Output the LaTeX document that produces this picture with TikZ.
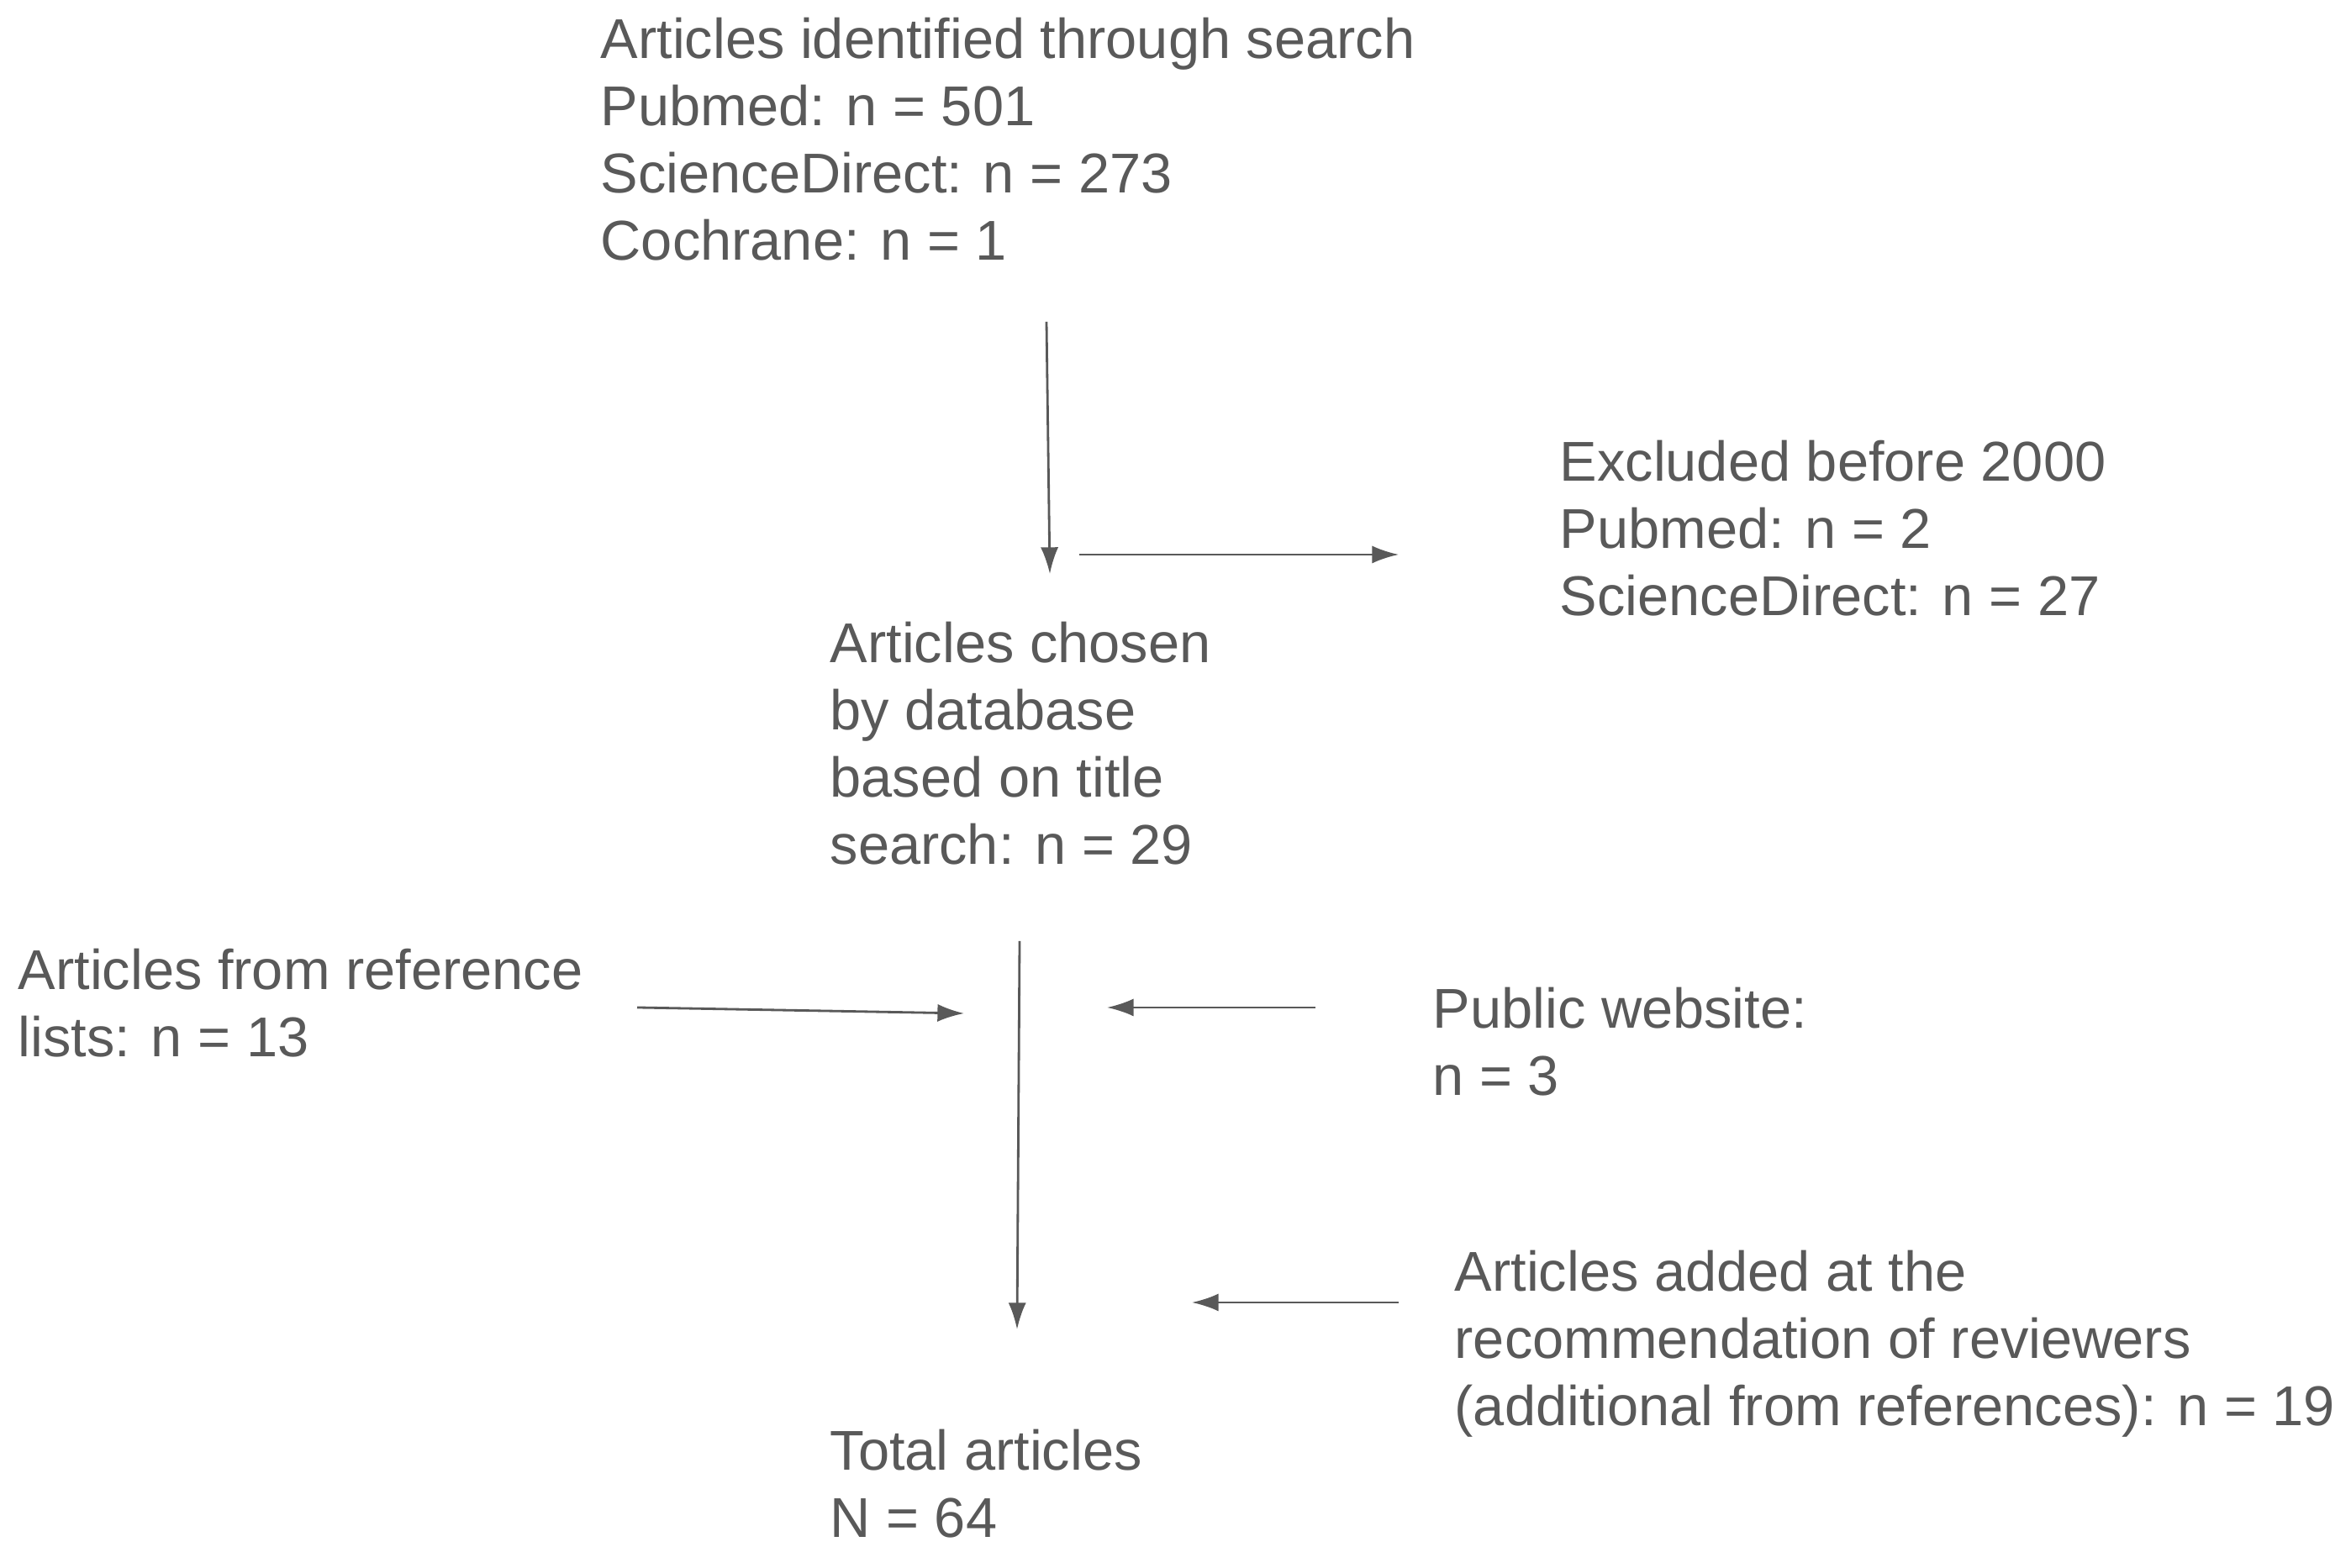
\documentclass[tikz,border=0pt]{standalone}
\usepackage{fontspec}
\setmainfont{Liberation Sans}
\usetikzlibrary{arrows.meta}
\definecolor{txtgray}{HTML}{595959}
\begin{document}
\begin{tikzpicture}[>={Latex[length=9pt,width=6pt]},
    lbl/.style={anchor=base west, inner sep=0pt, align=left, text=txtgray,
                font=\fontsize{19}{22.8}\selectfont},
    flow/.style={->, draw=txtgray, line width=0.8pt}]
    \useasboundingbox (0,0) rectangle (27.97,18.66);

    % text blocks (placed by the baseline of their last line)
    \node[lbl] (search) at (7.14,15.56) {Articles identified through search\\Pubmed: n = 501\\ScienceDirect: n = 273\\Cochrane: n = 1};
    \node[lbl] (excl) at (18.55,11.33) {Excluded before 2000\\Pubmed: n = 2\\ScienceDirect: n = 27};
    \node[lbl] (chosen) at (9.87,8.37) {Articles chosen\\by database\\based on title\\search: n = 29};
    \node[lbl] (reflist) at (0.21,6.08) {Articles from reference\\lists: n = 13};
    \node[lbl] (public) at (17.04,5.62) {Public website:\\n = 3};
    \node[lbl] (added) at (17.30,1.69) {Articles added at the\\recommendation of reviewers\\(additional from references): n = 19};
    \node[lbl] (total) at (9.87,0.36) {Total articles\\N = 64};

    % arrow ends
    \coordinate (s1) at (12.45,14.83); \coordinate (s2) at (12.49,11.83);
    \coordinate (e1) at (12.84,12.06); \coordinate (e2) at (16.64,12.06);
    \coordinate (c1) at (12.13,7.46);  \coordinate (c2) at (12.10,2.84);
    \coordinate (r1) at (7.58,6.67);   \coordinate (r2) at (11.47,6.60);
    \coordinate (p1) at (15.65,6.67);  \coordinate (p2) at (13.17,6.67);
    \coordinate (a1) at (16.64,3.16);  \coordinate (a2) at (14.18,3.16);

    \draw[flow] (s1) -- (s2);
    \draw[flow] (e1) -- (e2);
    \draw[flow] (c1) -- (c2);
    \draw[flow] (r1) -- (r2);
    \draw[flow] (p1) -- (p2);
    \draw[flow] (a1) -- (a2);
\end{tikzpicture}
\end{document}
